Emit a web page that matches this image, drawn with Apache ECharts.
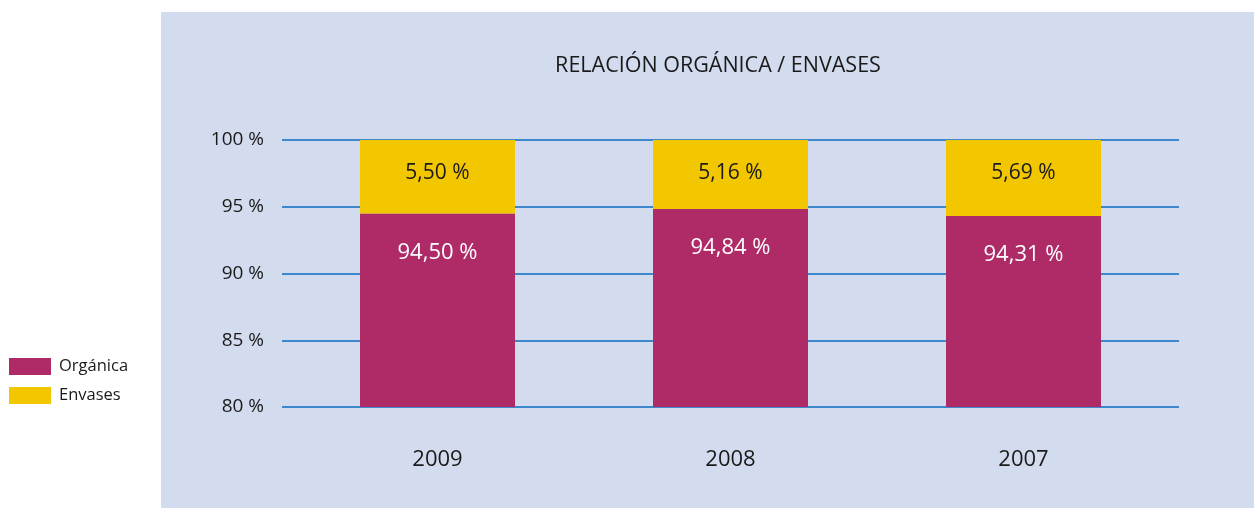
<!DOCTYPE html>
<html lang="es">
<head>
<meta charset="UTF-8">
<title>Relación orgánica / envases</title>
<script src="https://cdn.jsdelivr.net/npm/echarts@6/dist/echarts.min.js"></script>
<style>
  body { margin: 0; background: #ffffff; overflow: hidden; }
  #chart { width: 1254px; height: 508px; }
</style>
</head>
<body>
<div id="chart"></div>
<script>
// datos
const years = ['2009', '2008', '2007']
const organica = [94.50, 94.84, 94.31]
const envases = [5.50, 5.16, 5.69]
const yTicks = [80, 85, 90, 95, 100]

const FONT = '"Open Sans", "DejaVu Sans", sans-serif'
const MAGENTA = '#ae2b67'
const YELLOW = '#f2c700'
const INK = '#1a1a1a'

// formato español con coma decimal
const fmt = v => v.toFixed(2).replace('.', ',') + ' %'

const yRange = { min: yTicks[0], max: yTicks[yTicks.length - 1], interval: 5 }

const chart = echarts.init(document.getElementById('chart'))
chart.setOption({
  animation: false,
  graphic: [{
    type: 'rect',
    z: -10,
    shape: { x: 161, y: 12, width: 1093, height: 496 },
    style: { fill: '#d3dcee' }
  }],
  title: {
    text: 'RELACIÓN ORGÁNICA / ENVASES',
    left: 713,
    textAlign: 'center',
    top: 50,
    textStyle: { fontFamily: FONT, fontSize: 21.5, fontWeight: 'normal', color: INK }
  },
  legend: {
    orient: 'vertical',
    left: 4,
    top: 353,
    icon: 'rect',
    itemWidth: 42,
    itemHeight: 17,
    itemGap: 12,
    data: ['Orgánica', 'Envases'],
    textStyle: { fontFamily: FONT, fontSize: 16.5, lineHeight: 17, color: INK, padding: [0, 0, 0, 3] }
  },
  // grid 0: líneas de referencia; grid 1: barras
  grid: [
    { left: 282, width: 897, top: 140, height: 267 },
    { left: 291, width: 879, top: 140, height: 267 }
  ],
  xAxis: [
    { type: 'category', gridIndex: 0, data: years, show: false },
    {
      type: 'category',
      gridIndex: 1,
      data: years,
      axisLine: { show: false },
      axisTick: { show: false },
      axisLabel: { margin: 42, fontFamily: FONT, fontSize: 22, color: INK }
    }
  ],
  yAxis: [
    {
      type: 'value',
      gridIndex: 0,
      ...yRange,
      axisLine: { show: false },
      axisTick: { show: false },
      axisLabel: { margin: 18, fontFamily: FONT, fontSize: 19, color: INK, formatter: v => v + ' %' },
      splitLine: { lineStyle: { color: '#0b6cc0', width: 1.5 } }
    },
    {
      type: 'value',
      gridIndex: 1,
      ...yRange,
      show: false,
      splitLine: { show: false }
    }
  ],
  series: [
    {
      name: 'Orgánica',
      type: 'bar',
      stack: 'total',
      xAxisIndex: 1,
      yAxisIndex: 1,
      barWidth: 155,
      data: organica,
      itemStyle: { color: MAGENTA },
      label: {
        show: true,
        position: 'insideTop',
        distance: 28,
        formatter: p => fmt(p.value),
        fontFamily: FONT, fontSize: 22, color: '#ffffff'
      }
    },
    {
      name: 'Envases',
      type: 'bar',
      stack: 'total',
      xAxisIndex: 1,
      yAxisIndex: 1,
      barWidth: 155,
      data: envases,
      itemStyle: { color: YELLOW },
      label: {
        show: true,
        position: 'insideTop',
        distance: 23,
        formatter: p => fmt(p.value),
        fontFamily: FONT, fontSize: 21, color: INK
      }
    }
  ]
})
</script>
</body>
</html>
